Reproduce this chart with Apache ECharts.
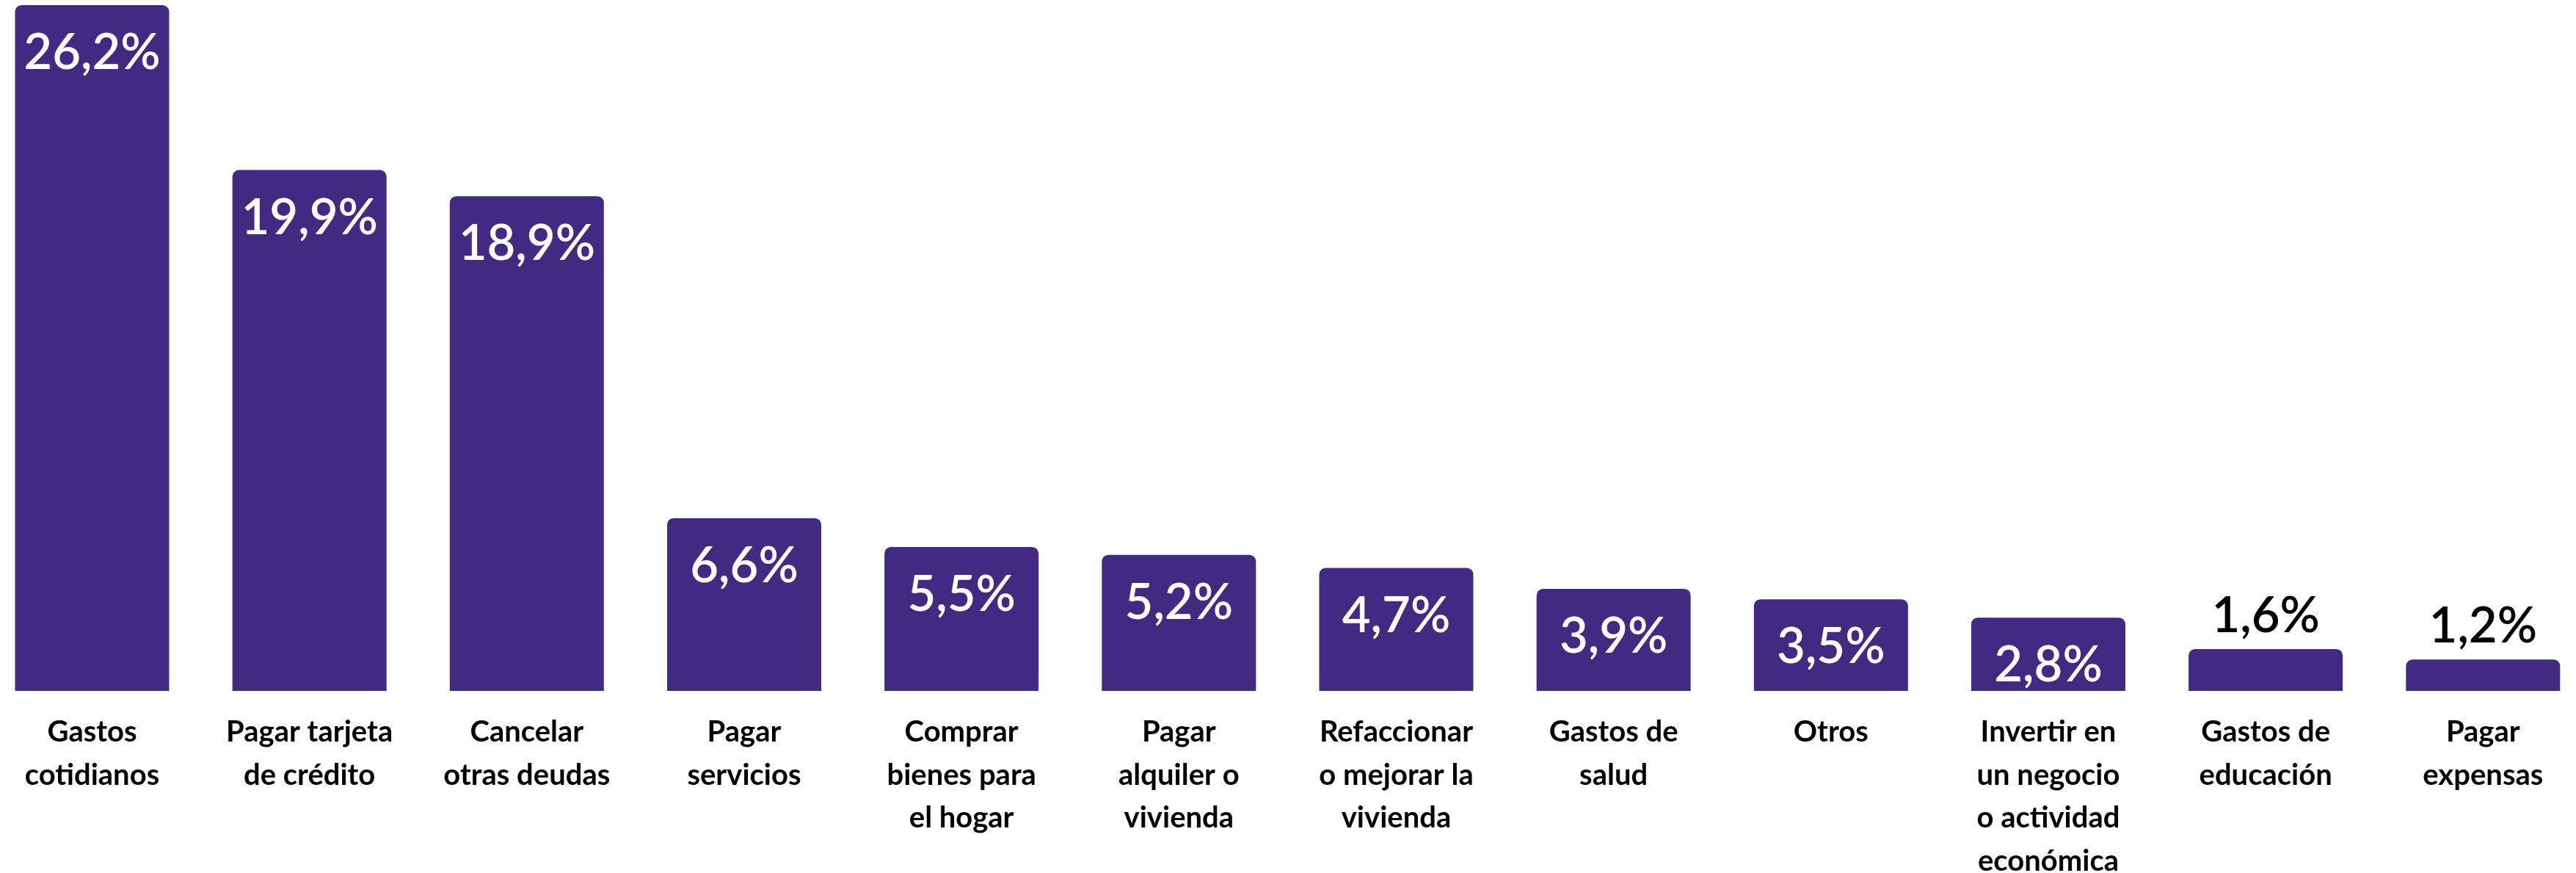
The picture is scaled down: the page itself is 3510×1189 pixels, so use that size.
<!DOCTYPE html>
<html>
<head>
<meta charset="utf-8">
<script src="https://cdn.jsdelivr.net/npm/echarts@6/dist/echarts.min.js"></script>
<style>
html, body { margin: 0; padding: 0; background: #ffffff; }
#chart { width: 3510px; height: 1189px; }
</style>
</head>
<body>
<div id="chart"></div>
<script>
var categories = [
  "Gastos\ncotidianos",
  "Pagar tarjeta\nde crédito",
  "Cancelar\notras deudas",
  "Pagar\nservicios",
  "Comprar\nbienes para\nel hogar",
  "Pagar\nalquiler o\nvivienda",
  "Refaccionar\no mejorar la\nvivienda",
  "Gastos de\nsalud",
  "Otros",
  "Invertir en\nun negocio\no actividad\neconómica",
  "Gastos de\neducación",
  "Pagar\nexpensas"
];
var values = [26.2, 19.9, 18.9, 6.6, 5.5, 5.2, 4.7, 3.9, 3.5, 2.8, 1.6, 1.2];

var BAR_COLOR = '#422982';
var FONT = 'Lato';

function fmt(v) {
  return v.toFixed(1).replace('.', ',') + '%';
}

var seriesData = values.map(function (v) {
  var item = { value: v };
  if (v < 2) {
    item.label = {
      position: 'top',
      distance: 11,
      color: '#000000',
      fontWeight: 600
    };
  }
  return item;
});

var chart = echarts.init(document.getElementById('chart'), null, { renderer: 'canvas' });
chart.setOption({
  animation: false,
  backgroundColor: '#ffffff',
  grid: {
    left: -22.6, right: -21.4, top: 7, bottom: 248,
    containLabel: false,
    outerBoundsMode: 'none'
  },
  xAxis: {
    type: 'category',
    data: categories,
    axisLine: { show: false },
    axisTick: { show: false },
    axisLabel: {
      interval: 0,
      margin: 27,
      fontFamily: FONT,
      fontSize: 40,
      lineHeight: 58.5,
      fontWeight: 700,
      color: '#000000',
      align: 'center'
    }
  },
  yAxis: {
    type: 'value',
    min: 0,
    max: 'dataMax',
    show: false,
    splitLine: { show: false }
  },
  series: [{
    type: 'bar',
    data: seriesData,
    barWidth: 210,
    itemStyle: { color: BAR_COLOR, borderRadius: [9, 9, 0, 0] },
    label: {
      show: true,
      position: 'insideTop',
      distance: 32,
      color: '#ffffff',
      fontFamily: FONT,
      fontSize: 67,
      fontWeight: 600,
      formatter: function (p) { return fmt(p.value); }
    }
  }]
});
</script>
</body>
</html>
